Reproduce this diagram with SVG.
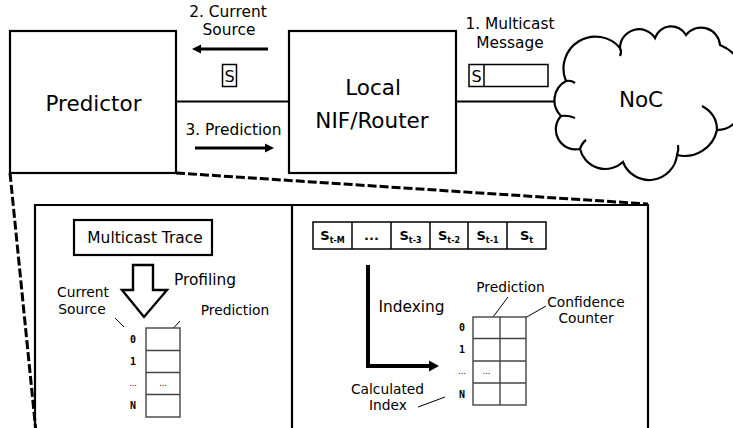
<svg xmlns="http://www.w3.org/2000/svg" width="733" height="428" viewBox="0 0 733 428">
<style>
.box{fill:#fff;stroke:#000;stroke-width:2.2}
.thin{fill:none;stroke:#000;stroke-width:1.5}
.tbl{fill:#fff;stroke:#444;stroke-width:1.4}
.ln{fill:none;stroke:#000;stroke-width:2.2}
.lead{fill:none;stroke:#000;stroke-width:1}
.dash{fill:none;stroke:#000;stroke-width:3;stroke-dasharray:9 3}
.t{font-family:"DejaVu Sans","Liberation Sans",sans-serif;fill:#000;text-anchor:middle}
.big{font-size:21.5px}
.mid{font-size:15.4px}
.sm{font-size:13.8px}
.idx{font-family:"DejaVu Sans Mono","Liberation Mono",monospace;font-weight:bold;font-size:10px;text-anchor:middle;fill:#000}
.dots{font-family:"DejaVu Sans","Liberation Sans",sans-serif;font-size:8px;text-anchor:middle;fill:#000}
.seq{font-family:"DejaVu Sans","Liberation Sans",sans-serif;font-weight:bold;font-size:13px;text-anchor:middle;fill:#000}
.sub{font-size:8px}
</style>
<rect width="733" height="428" fill="#fff"/>

<g id="connectors">
  <line class="ln" x1="176" y1="101.5" x2="289" y2="101.5"/>
  <line class="ln" x1="456" y1="101.5" x2="555" y2="101.5"/>
  <line x1="268" y1="49" x2="199" y2="49" stroke="#000" stroke-width="3"/>
  <polygon points="192,49 201,44.5 201,53.5" fill="#000"/>
  <line x1="195" y1="148" x2="266" y2="148" stroke="#000" stroke-width="3"/>
  <polygon points="274,148 265,143.5 265,152.5" fill="#000"/>
  <line class="dash" x1="10" y1="173" x2="36" y2="432"/>
  <line class="dash" x1="176" y1="173" x2="648" y2="204"/>
</g>

<g id="predictor">
  <rect class="box" x="10" y="31" width="166" height="142"/>
  <text class="t big" x="93.5" y="111">Predictor</text>
</g>

<g id="router">
  <rect class="box" x="289" y="31" width="167" height="142"/>
  <text class="t big"><tspan x="373" y="95">Local</tspan><tspan x="372" y="127.5">NIF/Router</tspan></text>
</g>

<g id="noc">
  <path class="ln" d="M566 81 A32 32 0 0 1 620 48 A19 19 0 0 1 655 38 A17 17 0 0 1 686 35 A19 19 0 0 1 720 45 A40 40 0 0 1 742 98 A26 26 0 0 1 717 130 A33 33 0 0 1 677 155 A28 28 0 0 1 623 162 A26 26 0 0 1 580 149 A20 20 0 0 1 561 116 A22 22 0 0 1 566 81 Z"/>
  <path class="ln" d="M566 81 Q571 80 575 83 M620 48 Q622 52 620 56 M717 130 Q717 114 702 106 M561 116 Q568 115 575 118 M580 149 Q582 143 586 140 M677 155 Q679 150 678 145"/>
  <text class="t big" x="641" y="107">NoC</text>
</g>

<g id="label-current-source">
  <text class="t mid"><tspan x="228" y="17">2. Current</tspan><tspan x="229" y="35">Source</tspan></text>
  <rect class="thin" x="222.5" y="64.5" width="14" height="22"/>
  <text class="t" x="229.5" y="82" font-size="16">S</text>
</g>

<g id="label-multicast-message">
  <text class="t mid"><tspan x="510" y="29">1. Multicast</tspan><tspan x="510" y="48">Message</tspan></text>
  <rect class="thin" x="469" y="64.5" width="79" height="22"/>
  <line class="thin" x1="484" y1="64.5" x2="484" y2="86.5"/>
  <text class="t" x="476.5" y="82" font-size="16">S</text>
</g>

<g id="label-prediction">
  <text class="t mid" x="233.5" y="135">3. Prediction</text>
</g>

<g id="detail-panel">
  <path class="ln" d="M35 432 V205 H648 V432" stroke-width="2.4"/>
  <line class="ln" x1="292" y1="205" x2="292" y2="432" stroke-width="3"/>
</g>

<g id="profiling">
  <rect class="box" x="74" y="220" width="138" height="35"/>
  <text class="t mid" x="145" y="243">Multicast Trace</text>
  <polygon points="133,265 153,265 153,290 167,290 144,317 122,290 133,290" fill="#fff" stroke="#000" stroke-width="2.4" stroke-linejoin="miter"/>
  <text class="t mid" x="205" y="285">Profiling</text>
  <text class="t sm"><tspan x="83" y="297.3">Current</tspan><tspan x="82" y="313.7">Source</tspan></text>
  <line class="lead" x1="115" y1="318" x2="124" y2="327"/>
  <text class="t sm" x="235" y="315">Prediction</text>
  <line class="lead" x1="180" y1="321" x2="167" y2="335"/>
  <g id="table-left">
    <rect class="tbl" x="146" y="328" width="34" height="89"/>
    <line class="tbl" x1="146" y1="350.5" x2="180" y2="350.5"/>
    <line class="tbl" x1="146" y1="372.5" x2="180" y2="372.5"/>
    <line class="tbl" x1="146" y1="394.5" x2="180" y2="394.5"/>
    <text class="idx" x="133" y="343">0</text>
    <text class="idx" x="133" y="365">1</text>
    <text class="dots" x="133" y="386">...</text>
    <text class="idx" x="133" y="409">N</text>
    <text class="dots" x="163" y="386">...</text>
  </g>
</g>

<g id="indexing">
  <g id="history">
    <rect class="thin" x="313" y="222" width="233" height="27" stroke-width="1.3"/>
    <line class="thin" x1="352" y1="222" x2="352" y2="249" stroke-width="1.3"/>
    <line class="thin" x1="391" y1="222" x2="391" y2="249" stroke-width="1.3"/>
    <line class="thin" x1="430" y1="222" x2="430" y2="249" stroke-width="1.3"/>
    <line class="thin" x1="468" y1="222" x2="468" y2="249" stroke-width="1.3"/>
    <line class="thin" x1="507" y1="222" x2="507" y2="249" stroke-width="1.3"/>
    <text class="seq" x="332.5" y="240">S<tspan class="sub" dy="2.5">t-M</tspan></text>
    <text class="seq" x="371.5" y="240">...</text>
    <text class="seq" x="410.5" y="240">S<tspan class="sub" dy="2.5">t-3</tspan></text>
    <text class="seq" x="449" y="240">S<tspan class="sub" dy="2.5">t-2</tspan></text>
    <text class="seq" x="487.5" y="240">S<tspan class="sub" dy="2.5">t-1</tspan></text>
    <text class="seq" x="526.5" y="240">S<tspan class="sub" dy="2.5">t</tspan></text>
  </g>
  <path d="M368 265 V366 H430" fill="none" stroke="#000" stroke-width="4"/>
  <polygon points="439,366 429,360.5 429,371.5" fill="#000"/>
  <text class="t mid" x="411.5" y="312">Indexing</text>
  <text class="t sm" x="510.5" y="292">Prediction</text>
  <line class="lead" x1="508" y1="297" x2="490" y2="321"/>
  <text class="t sm"><tspan x="586" y="306.8">Confidence</tspan><tspan x="586" y="323.2">Counter</tspan></text>
  <line class="lead" x1="546" y1="306" x2="511" y2="326"/>
  <text class="t sm"><tspan x="387.5" y="393.8">Calculated</tspan><tspan x="388" y="410.2">Index</tspan></text>
  <line class="lead" x1="418" y1="407" x2="445" y2="397"/>
  <g id="table-right">
    <rect class="tbl" x="473" y="317" width="53" height="88"/>
    <line class="tbl" x1="500" y1="317" x2="500" y2="405"/>
    <line class="tbl" x1="473" y1="338.5" x2="526" y2="338.5"/>
    <line class="tbl" x1="473" y1="361" x2="526" y2="361"/>
    <line class="tbl" x1="473" y1="383" x2="526" y2="383"/>
    <text class="idx" x="462" y="331">0</text>
    <text class="idx" x="462" y="353">1</text>
    <text class="dots" x="462" y="374">...</text>
    <text class="idx" x="462" y="398">N</text>
    <text class="dots" x="486.5" y="374">...</text>
  </g>
</g>
</svg>
